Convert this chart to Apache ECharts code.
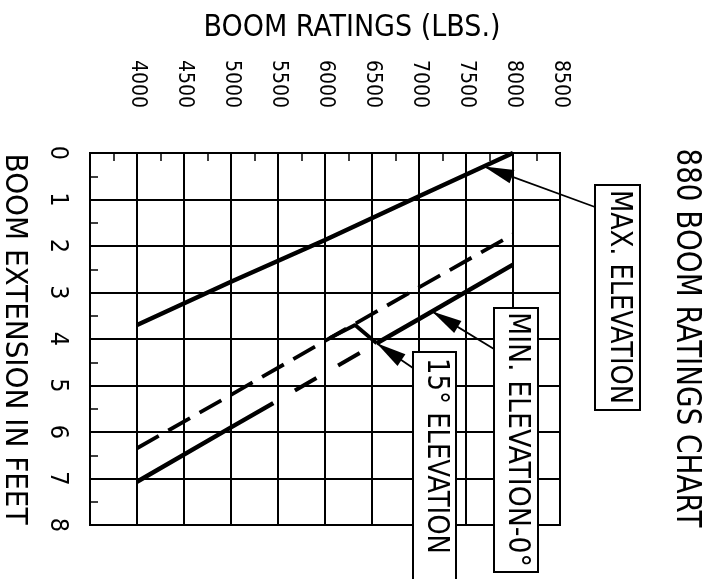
<!DOCTYPE html>
<html>
<head>
<meta charset="utf-8">
<script src="https://cdn.jsdelivr.net/npm/echarts@6/dist/echarts.min.js"></script>
<style>
  html, body { margin: 0; padding: 0; background: #fff; }
  #chart { width: 711px; height: 579px; }
</style>
</head>
<body>
<div id="chart"></div>
<script>
// Boom rating (lbs) against boom extension (ft) for the 880 boom.
const ratingTicks = [4000, 4500, 5000, 5500, 6000, 6500, 7000, 7500, 8000, 8500];
const extensionTicks = [0, 1, 2, 3, 4, 5, 6, 7, 8];

// [rating lbs, extension ft]
const maxElevation = [[4000, 3.70], [5000, 2.77], [6000, 1.87], [7000, 0.93], [8000, 0.00]];
const elevation15 = [[4000, 6.35], [5000, 5.20], [6000, 4.04], [7000, 2.89], [8000, 1.75]];
const minElevation = [[4000, 7.07], [5000, 5.90], [5450, 5.38], [6000, 4.73], [6550, 4.09], [7000, 3.57], [8000, 2.40]];
const crossover15 = [[6050, 3.98], [6320, 3.70], [6550, 4.09]];

const calloutTexts = ['MAX. ELEVATION', 'MIN. ELEVATION-0°', '15° ELEVATION'];
const calloutRatings = [7690, 7140, 6550];

const FONT = '"DejaVu Sans Condensed", "DejaVu Sans", "Liberation Sans", sans-serif';
const INK = '#000';

const chart = echarts.init(document.getElementById('chart'), null, { renderer: 'canvas' });

function lineSeries(name, data, width, type, offset) {
  return {
    name, type: 'line', data, silent: true, symbol: 'none', showSymbol: false,
    animation: false, z: 3,
    lineStyle: { color: INK, width, type: type || 'solid', dashOffset: offset || 0, cap: 'butt' }
  };
}

chart.setOption({
  backgroundColor: '#fff',
  animation: false,
  grid: {
    left: 90, right: 151, top: 153, bottom: 54, outerBoundsMode: 'none', containLabel: false,
    show: true, borderColor: INK, borderWidth: 2, backgroundColor: 'transparent'
  },
  xAxis: {
    type: 'value', position: 'top', min: 3500, max: 8500, interval: 500,
    name: 'BOOM RATINGS (LBS.)', nameLocation: 'middle', nameGap: 110,
    nameTextStyle: { fontFamily: FONT, fontSize: 30, color: INK, padding: [0, 0, 0, 54] },
    axisLine: { show: true, lineStyle: { color: INK, width: 2 } },
    axisTick: { show: false, inside: true },
    minorTick: { show: true, splitNumber: 2, length: 8, lineStyle: { color: INK, width: 1.5 } },
    splitLine: { show: true, lineStyle: { color: INK, width: 2 } },
    axisLabel: {
      rotate: -90, margin: 45, fontFamily: FONT, fontSize: 21, color: INK,
      formatter: v => (ratingTicks.indexOf(v) >= 0 ? String(v) : '')
    }
  },
  yAxis: {
    type: 'value', inverse: true, min: 0, max: 8, interval: 1,
    name: 'BOOM EXTENSION IN FEET', nameLocation: 'middle', nameRotate: -90, nameGap: 60,
    nameTextStyle: { fontFamily: FONT, fontSize: 31, color: INK },
    axisLine: { show: true, lineStyle: { color: INK, width: 2 } },
    axisTick: { show: false, inside: true },
    minorTick: { show: true, splitNumber: 2, length: 8, lineStyle: { color: INK, width: 1.5 } },
    splitLine: { show: true, lineStyle: { color: INK, width: 2 } },
    axisLabel: {
      rotate: -90, margin: 20, fontFamily: FONT, fontSize: 25, color: INK,
      formatter: v => (extensionTicks.indexOf(v) >= 0 ? String(v) : '')
    }
  },
  series: [
    lineSeries('MAX. ELEVATION', maxElevation, 4.5),
    lineSeries('15° ELEVATION', elevation15, 3.8, [25, 11]),
    lineSeries('15° ELEVATION crossover', crossover15, 3.8),
    lineSeries('MIN. ELEVATION-0°', minElevation.slice(0, 3), 4.5),
    lineSeries('MIN. ELEVATION-0° (dashed)', minElevation.slice(2, 5), 4, [25, 25], 25),
    lineSeries('MIN. ELEVATION-0° (upper)', minElevation.slice(4), 4.5)
  ]
});

// Extension at a given rating, read along a series' points.
function extensionAt(points, x) {
  for (let i = 1; i < points.length; i++) {
    const a = points[i - 1], b = points[i];
    if (x >= a[0] && x <= b[0]) return a[1] + (b[1] - a[1]) * (x - a[0]) / (b[0] - a[0]);
  }
  return points[points.length - 1][1];
}

// Horizontal squeeze so a label of the narrow drafting lettering fills a given run.
const measureCtx = document.createElement('canvas').getContext('2d');
function squeezeFor(text, size, run) {
  measureCtx.font = size + 'px ' + FONT;
  return Math.min(1, run / measureCtx.measureText(text).width);
}

// Callout boxes: [left, top, width, height], leader start, text run length.
const calloutBoxes = [
  { box: [595, 185, 45, 225], tail: [595, 207], pad: 5, run: 214, target: maxElevation },
  { box: [494, 308, 44, 264], tail: [494, 349], pad: 4, run: 255, target: minElevation },
  { box: [413, 352, 43, 240], tail: [413, 368], pad: 6, run: 196, target: minElevation }
];

const graphics = [];
calloutBoxes.forEach((c, i) => {
  const [bx, by, bw, bh] = c.box;
  const x = calloutRatings[i];
  const tip = chart.convertToPixel({ gridIndex: 0 }, [x, extensionAt(c.target, x)]);
  const [tx, ty] = c.tail;
  const dx = tx - tip[0], dy = ty - tip[1];
  const len = Math.hypot(dx, dy);
  const ux = dx / len, uy = dy / len;
  const L = 30, W = 7;
  const bxm = tip[0] + ux * L, bym = tip[1] + uy * L;
  graphics.push({
    type: 'line', z: 10,
    shape: { x1: tip[0], y1: tip[1], x2: tx, y2: ty },
    style: { stroke: INK, lineWidth: 1.8 }
  });
  graphics.push({
    type: 'polygon', z: 11,
    shape: { points: [[tip[0], tip[1]], [bxm - uy * W, bym + ux * W], [bxm + uy * W, bym - ux * W]] },
    style: { fill: INK }
  });
  graphics.push({
    type: 'rect', z: 12,
    shape: { x: bx, y: by, width: bw, height: bh },
    style: { fill: '#fff', stroke: INK, lineWidth: 2 }
  });
  const size = 30;
  graphics.push({
    type: 'text', z: 13,
    x: bx + bw / 2 + 1, y: by + c.pad, rotation: -Math.PI / 2,
    scaleX: squeezeFor(calloutTexts[i], size, c.run),
    style: { text: calloutTexts[i], fontFamily: FONT, fontSize: size, fill: INK, align: 'left', verticalAlign: 'middle' }
  });
});

const chartTitle = '880 BOOM RATINGS CHART';
graphics.push({
  type: 'text', z: 13,
  x: 686, y: 338, rotation: -Math.PI / 2,
  scaleX: squeezeFor(chartTitle, 33, 379),
  style: { text: chartTitle, fontFamily: FONT, fontSize: 33, fill: INK, align: 'center', verticalAlign: 'middle' }
});

chart.setOption({ graphic: graphics });
</script>
</body>
</html>
